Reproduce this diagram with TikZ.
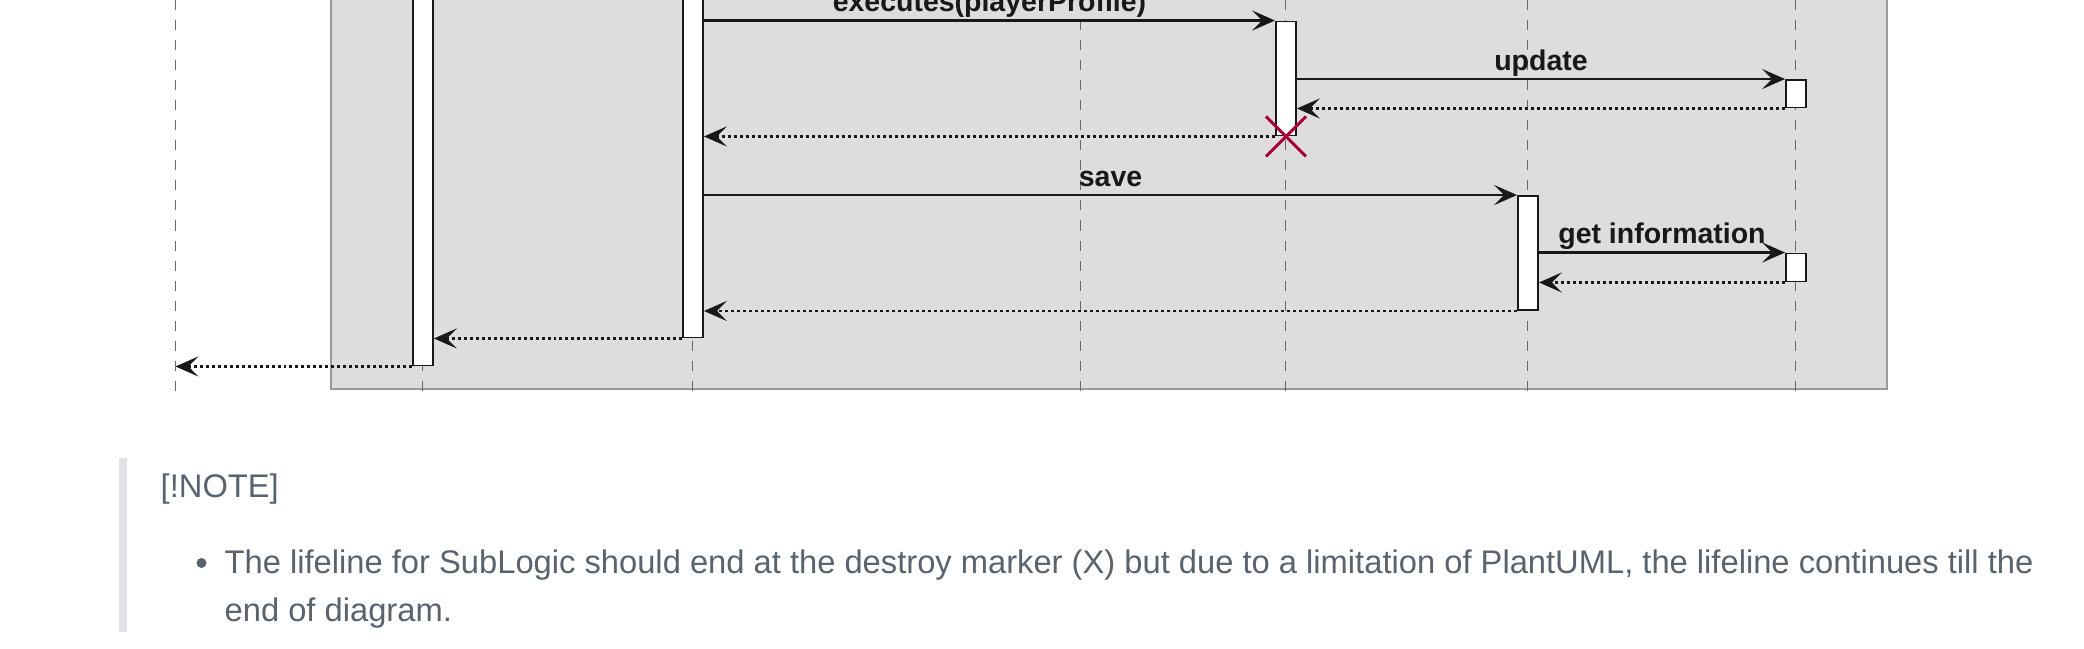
\documentclass[tikz,border=0pt]{standalone}
\usepackage{fontspec}
\setmainfont{Liberation Sans}
\usetikzlibrary{arrows.meta,fit}
\definecolor{ink}{HTML}{181818}
\definecolor{frame}{HTML}{DDDDDD}
\definecolor{frameline}{HTML}{999999}
\definecolor{crimson}{HTML}{A80036}
\definecolor{muted}{HTML}{59636E}
\definecolor{quotebar}{HTML}{E0E2E8}

\begin{document}
\begin{tikzpicture}[x=.01cm,y=-.01cm,>={Stealth[length=6.5pt,width=5.7pt,inset=2.8pt]},every node/.style={font=\rmfamily,text=ink},life/.style={draw=ink!65,line width=.35pt,dash pattern=on 2.85pt off 2.85pt},act/.style={draw=ink,fill=white,line width=.55pt,inner sep=0pt},call/.style={->,ink,line width=.75pt},reply/.style={->,ink,line width=.6pt,dash pattern=on .85pt off .85pt},msg/.style={font=\bfseries\fontsize{8.1}{9}\selectfont,anchor=base,yshift=.09cm,inner sep=0pt},note/.style={font=\fontsize{9.3}{11}\selectfont,text=muted,anchor=base west,inner sep=0pt}]
\path[use as bounding box] (0,0) rectangle (2084,648);
\clip (0,0) rectangle (2084,648);


\fill[frame] (331,-10) rectangle (1887,389);
\draw[frameline,line width=.55pt] (331,-10) rectangle (1887,389);
\foreach \x in {175.5,422.6,692.4,1080.5,1285.5,1527.5,1795.5}
  \draw[life] (\x,0) -- (\x,397);
\coordinate (l1) at (175.5,0);

\node[act,fit={(413,-10)(433,365.5)}] (a2) {};
\node[act,fit={(683,-10)(703,337.5)}] (a3) {};
\node[act,fit={(1276,21.5)(1296,135.5)}] (a5) {};
\node[act,fit={(1518,196)(1538,310)}] (a6) {};
\node[act,fit={(1786,80)(1806,107.5)}] (a7a) {};
\node[act,fit={(1786,253.5)(1806,281.5)}] (a7b) {};

\draw[call] (a3.east |- a5.north) -- (a5.north west) node[msg,midway] {executes(playerProfile)};
\draw[call] (a5.east |- a7a.north) -- (a7a.north west) node[msg,midway] {update};
\draw[reply] (a7a.south west) -- (a5.east |- a7a.south);
\draw[reply] (a5.south west) -- (a3.east |- a5.south);
\draw[crimson,line width=.85pt] (a5.south) +(-20,-20) -- +(20,20) +(-20,20) -- +(20,-20);
\draw[call] (a3.east |- a6.north) -- (a6.north west) node[msg,midway] {save};
\draw[call] (a6.east |- a7b.north) -- (a7b.north west) node[msg,midway] {get information};
\draw[reply] (a7b.south west) -- (a6.east |- a7b.south);
\draw[reply] (a6.south west) -- (a3.east |- a6.south);
\draw[reply] (a3.south west) -- (a2.east |- a3.south);
\draw[reply] (a2.south west) -- (l1 |- a2.south);

\fill[quotebar] (119,458) rectangle (127,632);
\node[note] (tag) at (160,497) {[!NOTE]};
\fill[muted] (201.5,563) circle (5);
\node[note] (line1) at (224,573.3) {The lifeline for SubLogic should end at the destroy marker (X) but due to a limitation of PlantUML, the lifeline continues till the};
\node[note] (line2) at (224,621) {end of diagram.};

\end{tikzpicture}
\end{document}
